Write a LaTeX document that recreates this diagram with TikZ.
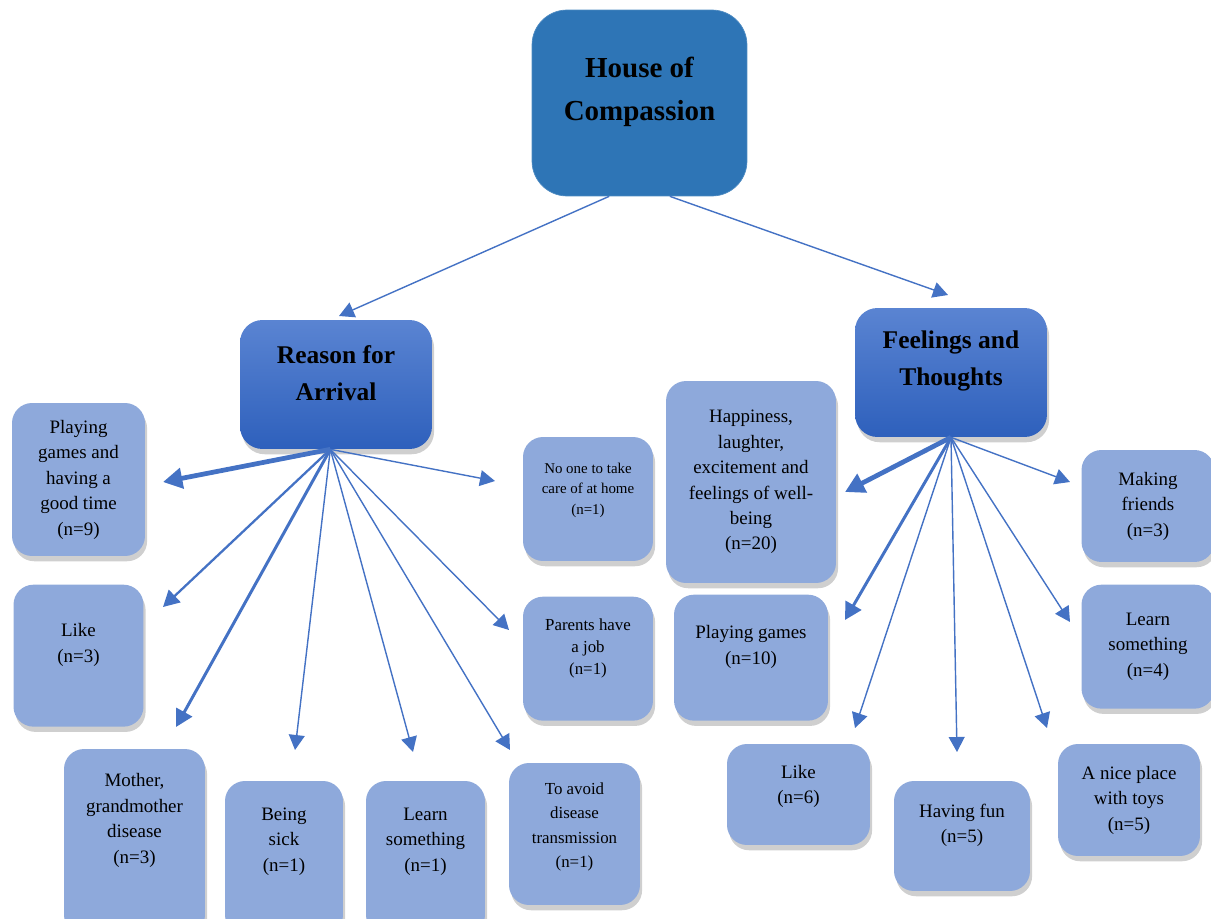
\documentclass[tikz,border=0pt]{standalone}
\usepackage{fontspec}
\setmainfont{Liberation Serif}
\usetikzlibrary{positioning, arrows.meta, shadows}
\definecolor{topblue}{RGB}{46,117,182}
\definecolor{headtop}{RGB}{90,132,210}
\definecolor{headbot}{RGB}{46,96,188}
\definecolor{leafblue}{RGB}{142,169,219}
\definecolor{linkblue}{RGB}{68,114,196}
\newcommand{\lift}[1]{\rule[-#1]{0pt}{#1}} % extra depth, pushes the text up in its box
\tikzset{
>={Triangle[length=7.5pt 1.3, width=8pt 1.3]}, % arrow tip of every link
link/.style={->, draw=linkblue, line width=0.8pt}, % thin link
linkmid/.style={link, line width=1.3pt},
linkwide/.style={link, line width=1.7pt},
linkheavy/.style={link, line width=2.7pt},
boxsize/.style 2 args={minimum width=#1cm, minimum height=#2cm},
head/.style={rectangle, rounded corners=0.45cm, top color=headtop, bottom color=headbot, align=center, inner sep=0pt, font=\bfseries\fontsize{14.5}{21}\selectfont, boxsize={3.84}{2.58}, drop shadow={shadow xshift=1.2pt, shadow yshift=-3pt, opacity=0.38}},
leaf/.style={rectangle, rounded corners=0.4cm, fill=leafblue, align=center, inner sep=0pt, font=\fontsize{10.8}{14.5}\selectfont, drop shadow={shadow xshift=1.2pt, shadow yshift=-3pt, opacity=0.38}},
}

\begin{document}
\begin{tikzpicture}[x=0.02cm, y=-0.02cm]
    \useasboundingbox (0,0) rectangle (1211,919);

    \node[rectangle, rounded corners=0.7cm, fill=topblue, draw=topblue!85!white, align=center, inner sep=0pt, boxsize={4.3}{3.72}, font=\bfseries\fontsize{16.5}{24.4}\selectfont] (hoc) at (639.5,103) {House of\\Compassion\lift{16pt}};
    \node[head] (ra) at (336,384.5) {Reason for\\Arrival\lift{13pt}};
    \node[head] (fat) at (951,372.5) {Feelings and\\Thoughts\lift{16.5pt}};

    % reason for arrival
    \node[leaf, boxsize={2.66}{3.06}] (play9) at (78.5,479.5) {Playing\\games and\\having a\\good time\\(n=9)};
    \node[leaf, boxsize={2.6}{2.84}, below=0.56cm of play9] (like3) {Like\\(n=3)\lift{14.6pt}};
    \node[leaf, boxsize={2.82}{3.72}] (mother) at (134.5,842) {Mother,\\grandmother\\disease\\(n=3)\lift{27pt}};
    \node[leaf, boxsize={2.36}{3.08}] (sick) at (284,858) {Being\\sick\\(n=1)\lift{21pt}};
    \node[leaf, boxsize={2.38}{3.08}] (learn1) at (425.5,858) {Learn\\something\\(n=1)\lift{21pt}};
    \node[leaf, boxsize={2.62}{2.84}, font=\fontsize{9.6}{14}\selectfont] (avoid) at (574.5,834) {To avoid\\disease\\transmission\\(n=1)\lift{10pt}};
    \node[leaf, boxsize={2.6}{2.48}, font=\fontsize{8.5}{11.6}\selectfont] (noone) at (588,499) {No one to take\\care of at home\\(n=1)\lift{12pt}};
    \node[leaf, boxsize={2.6}{2.48}, font=\fontsize{9.6}{12.5}\selectfont, below=0.7cm of noone] (parents) {Parents have\\a job\\(n=1)\lift{13.3pt}};

    % feelings and thoughts
    \node[leaf, boxsize={3.4}{4.04}] (happy) at (751,482) {Happiness,\\laughter,\\excitement and\\feelings of well-\\being\\(n=20)};
    \node[leaf, boxsize={3.08}{2.52}, below=0.22cm of happy] (play10) {Playing games\\(n=10)\lift{14.6pt}};
    \node[leaf, boxsize={2.66}{2.24}] (friends) at (1148,506) {Making\\friends\\(n=3)};
    \node[leaf, boxsize={2.66}{2.48}, below=0.44cm of friends] (learn4) {Learn\\something\\(n=4)};
    \node[leaf, boxsize={2.86}{2.02}] (like6) at (798.5,794.5) {Like\\(n=6)\lift{11.2pt}};
    \node[leaf, boxsize={2.72}{2.2}] (fun) at (962,836) {Having fun\\(n=5)\lift{14.6pt}};
    \node[leaf, boxsize={2.84}{2.24}] (nice) at (1129,800) {A nice place\\with toys\\(n=5)};

    % arrow ends
    \coordinate (e-ra) at (339,316);
    \coordinate (e-fat) at (948,295);
    \coordinate (e-play9) at (163,482);
    \coordinate (e-like3) at (163,607);
    \coordinate (e-mother) at (176,727);
    \coordinate (e-sick) at (295,750);
    \coordinate (e-learn1) at (413,752);
    \coordinate (e-avoid) at (510,750);
    \coordinate (e-parents) at (509,630);
    \coordinate (e-noone) at (495,481);
    \coordinate (e-happy) at (845,492);
    \coordinate (e-play10) at (845,620);
    \coordinate (e-like6) at (855,728);
    \coordinate (e-fun) at (957,752);
    \coordinate (e-nice) at (1047,728);
    \coordinate (e-learn4) at (1070,622);
    \coordinate (e-friends) at (1070,482);

    \draw[link] (hoc.-108) -- (e-ra);
    \draw[link] (hoc.-72) -- (e-fat);

    \draw[linkheavy] (ra.-95) -- (e-play9);
    \draw[linkmid] (ra.-95) -- (e-like3);
    \draw[linkwide] (ra.-95) -- (e-mother);
    \draw[link] (ra.-95) -- (e-sick);
    \draw[link] (ra.-95) -- (e-learn1);
    \draw[link] (ra.-95) -- (e-avoid);
    \draw[link] (ra.-95) -- (e-parents);
    \draw[link] (ra.-95) -- (e-noone);

    \draw[linkheavy] (fat.south) -- (e-happy);
    \draw[linkwide] (fat.south) -- (e-play10);
    \draw[link] (fat.south) -- (e-like6);
    \draw[link] (fat.south) -- (e-fun);
    \draw[link] (fat.south) -- (e-nice);
    \draw[link] (fat.south) -- (e-learn4);
    \draw[link] (fat.south) -- (e-friends);
\end{tikzpicture}
\end{document}
